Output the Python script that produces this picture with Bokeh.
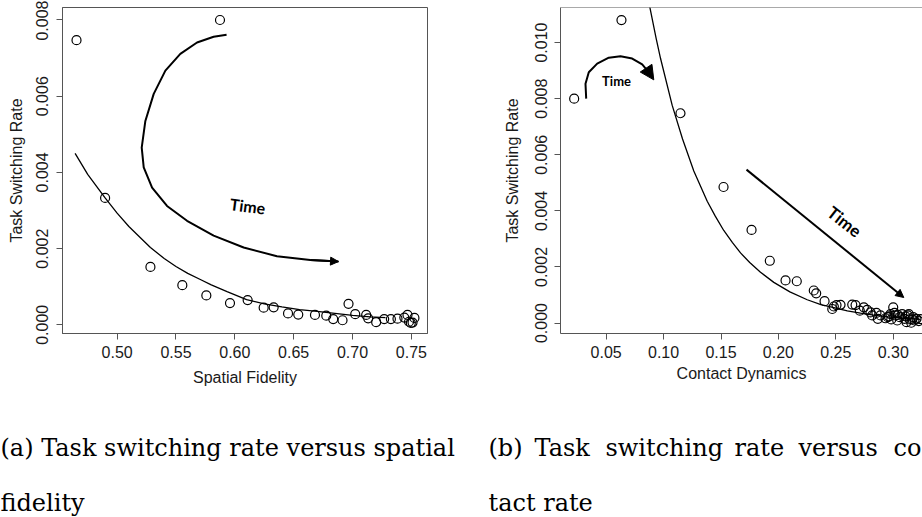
from bokeh.plotting import figure
from bokeh.models import Range1d, FixedTicker, NumeralTickFormatter, Label, Arrow, NormalHead, Span
from bokeh.layouts import row, column
from bokeh.embed import file_html
from bokeh.resources import INLINE

# ---------------- data: panel (a) ----------------
sf_x = [0.4655, 0.5874, 0.4898, 0.5283, 0.5554, 0.5758, 0.5959, 0.6109, 0.6245, 0.6330,
        0.6452, 0.6539, 0.6681, 0.6777, 0.6836, 0.6915, 0.6966, 0.7023, 0.7116, 0.7133,
        0.7201, 0.7269, 0.7326, 0.7382, 0.7440, 0.7467, 0.7480, 0.7495, 0.7510, 0.7526]
sf_y = [0.00747, 0.00800, 0.00333, 0.00152, 0.00104, 0.00077, 0.00057, 0.00065, 0.00045, 0.00046,
        0.00030, 0.00027, 0.00026, 0.00024, 0.00015, 0.00012, 0.00055, 0.00028, 0.00026, 0.00017,
        0.00007, 0.00015, 0.00015, 0.00016, 0.00019, 0.00026, 0.00008, 0.00005, 0.00006, 0.00018]
sf_fit_x = [0.4643, 0.475, 0.4898, 0.50, 0.51, 0.52, 0.5283, 0.54, 0.55, 0.56, 0.5707, 0.58,
            0.5934, 0.61, 0.625, 0.64, 0.655, 0.67, 0.685, 0.70, 0.715, 0.728]
sf_fit_y = [0.00450, 0.00395, 0.00333, 0.00293, 0.00258, 0.00228, 0.00203, 0.00174, 0.00153,
            0.00135, 0.00119, 0.00105, 0.00087, 0.00066, 0.00055, 0.00047, 0.00040, 0.00035,
            0.00030, 0.00025, 0.00021, 0.00019]
sf_arc_x = [0.5930, 0.5820, 0.5679, 0.5537, 0.5410, 0.5311, 0.5240, 0.5209, 0.5226, 0.5297,
            0.5424, 0.5594, 0.5820, 0.6075, 0.6358, 0.6641, 0.6881]
sf_arc_y = [0.00761, 0.00756, 0.00741, 0.00711, 0.00667, 0.00606, 0.00535, 0.00465, 0.00413,
            0.00360, 0.00312, 0.00273, 0.00234, 0.00203, 0.00180, 0.00170, 0.00166]
sf_xticks = [0.50, 0.55, 0.60, 0.65, 0.70, 0.75]
sf_yticks = [0.000, 0.002, 0.004, 0.006, 0.008]

# ---------------- data: panel (b) ----------------
cd_x = [0.0221, 0.0633, 0.1147, 0.1522, 0.1766, 0.1925, 0.2062, 0.2160, 0.2308, 0.2329,
        0.2402, 0.2469, 0.2483, 0.2506, 0.2541, 0.2643, 0.2672, 0.2709, 0.2744, 0.2773,
        0.2802, 0.2817, 0.2854, 0.2866, 0.2889, 0.2933, 0.2953, 0.2976, 0.3000, 0.2983,
        0.3020, 0.3035, 0.3057, 0.3078, 0.3098, 0.3116, 0.3127, 0.3144, 0.3157, 0.3174,
        0.3185, 0.3203, 0.3223, 0.3238, 0.2962, 0.3011, 0.3040, 0.3136, 0.3107, 0.3166]
cd_y = [0.00800, 0.01080, 0.00748, 0.00485, 0.00332, 0.00222, 0.00152, 0.00149, 0.00116, 0.00106,
        0.00078, 0.00050, 0.00059, 0.00064, 0.00065, 0.00066, 0.00064, 0.00044, 0.00056, 0.00047,
        0.00038, 0.00027, 0.00036, 0.00015, 0.00027, 0.00017, 0.00021, 0.00032, 0.00056, 0.00013,
        0.00027, 0.00009, 0.00021, 0.00032, 0.00015, 0.00003, 0.00027, 0.00013, 0.00001, 0.00021,
        0.00009, 0.00015, 0.00007, 0.00014, 0.00024, 0.00036, 0.00029, 0.00032, 0.00024, 0.00013]
cd_fit_x = [0.0860, 0.0880, 0.0935, 0.0973, 0.1075, 0.1165, 0.1263, 0.1380, 0.145, 0.1524, 0.160,
            0.167, 0.175, 0.1844, 0.196, 0.21, 0.2251, 0.237, 0.2483, 0.26, 0.2715, 0.283,
            0.2948, 0.31, 0.3237]
cd_fit_y = [0.01170, 0.01126, 0.01015, 0.00944, 0.00776, 0.00656, 0.00542, 0.00434, 0.00381,
            0.00330, 0.00287, 0.00250, 0.00216, 0.00181, 0.00145, 0.00111, 0.00083, 0.00066,
            0.00055, 0.00043, 0.00035, 0.00028, 0.00022, 0.00017, 0.00013]
cd_arc_x = [0.03258, 0.03197, 0.03484, 0.04216, 0.05226, 0.06246, 0.07265, 0.08136, 0.08711]
cd_arc_y = [0.00800, 0.00853, 0.00894, 0.00925, 0.00946, 0.00951, 0.00943, 0.00922, 0.00894]
cd_xticks = [0.05, 0.10, 0.15, 0.20, 0.25, 0.30]
cd_yticks = [0.000, 0.002, 0.004, 0.006, 0.008, 0.010]

# ---------------- captions ----------------
cap_a_line1 = "(a) Task switching rate versus spatial"
cap_a_line2 = "fidelity"
cap_b_words = ["(b)", "Task", "switching", "rate", "versus", "co"]
cap_b_line2 = "tact rate"

AXC = "#555555"
TXT = "#1a1a1a"
SANS = "Liberation Sans"


def style(p, xticks, yticks, xlabel, ylabel, tl_stand_x, lab_stand_x, tl_stand_y, lab_stand_y):
    p.xgrid.visible = False
    p.ygrid.visible = False
    p.background_fill_color = "white"
    p.border_fill_color = "white"
    for ax, ticks, fmt, lab, ts, ls in ((p.xaxis, xticks, "0.00", xlabel, tl_stand_x, lab_stand_x),
                                        (p.yaxis, yticks, "0.000", ylabel, tl_stand_y, lab_stand_y)):
        ax.ticker = FixedTicker(ticks=ticks)
        ax.formatter = NumeralTickFormatter(format=fmt)
        ax.minor_tick_line_color = None
        ax.major_tick_in = 0
        ax.major_tick_out = 6
        ax.major_tick_line_color = AXC
        ax.axis_line_color = AXC
        ax.major_label_text_font = SANS
        ax.major_label_text_font_size = "16px"
        ax.major_label_text_color = TXT
        ax.major_label_standoff = ts
        ax.axis_label = lab
        ax.axis_label_text_font = SANS
        ax.axis_label_text_font_size = "16px"
        ax.axis_label_text_font_style = "normal"
        ax.axis_label_text_color = TXT
        ax.axis_label_standoff = ls
    p.yaxis.major_label_orientation = "vertical"


# ---------------- panel (a) ----------------
p1 = figure(width=470, height=392, output_backend="svg", toolbar_location=None,
            x_range=Range1d(0.4536, 0.7637), y_range=Range1d(-0.000228, 0.008328),
            min_border_left=62, min_border_right=43, min_border_top=7, min_border_bottom=59)
style(p1, sf_xticks, sf_yticks, "Spatial Fidelity", "Task Switching Rate", 6, 8, 8, 9)
p1.outline_line_color = AXC
p1.outline_line_width = 1

p1.line(sf_fit_x, sf_fit_y, line_color="black", line_width=1.3)
p1.scatter(sf_x, sf_y, marker="circle", size=9, fill_color=None, line_color="black", line_width=1.2)
p1.line(sf_arc_x, sf_arc_y, line_color="black", line_width=2)
p1.add_layout(Arrow(end=NormalHead(size=8, fill_color="black", line_color="black"),
                    x_start=sf_arc_x[-2], y_start=sf_arc_y[-2], x_end=sf_arc_x[-1], y_end=sf_arc_y[-1],
                    line_color="black", line_width=2))
p1.add_layout(Label(x=0.6110, y=0.00312, text="Time", text_font="Lato", text_font_style="bold",
                    text_font_size="16px", text_align="center", text_baseline="middle", angle=-0.13,
                    text_color="black"))

# ---------------- panel (b) ----------------
p2 = figure(width=452, height=392, output_backend="svg", toolbar_location=None,
            x_range=Range1d(0.0102, 0.3255), y_range=Range1d(-0.000373, 0.01125),
            min_border_left=90, min_border_right=0, min_border_top=2, min_border_bottom=57)
style(p2, cd_xticks, cd_yticks, "Contact Dynamics", "Task Switching Rate", 6, 4, 7, 12)
p2.outline_line_color = None
p2.add_layout(Span(location=0.01125, dimension="width", line_color=AXC, line_width=1))

p2.line(cd_fit_x, cd_fit_y, line_color="black", line_width=1.3)
p2.scatter(cd_x, cd_y, marker="circle", size=9, fill_color=None, line_color="black", line_width=1.2)
p2.line(cd_arc_x, cd_arc_y, line_color="black", line_width=2)
p2.add_layout(Arrow(end=NormalHead(size=14, fill_color="black", line_color="black"),
                    x_start=cd_arc_x[-1], y_start=cd_arc_y[-1], x_end=0.09146, y_end=0.00867,
                    line_color="black", line_width=2))
p2.add_layout(Label(x=0.0590, y=0.00862, text="Time", text_font="Lato", text_font_style="bold",
                    text_font_size="13px", text_align="center", text_baseline="middle",
                    text_color="black"))
p2.add_layout(Arrow(end=NormalHead(size=8, fill_color="black", line_color="black"),
                    x_start=0.1722, y_start=0.00547, x_end=0.3092, y_end=0.00091,
                    line_color="black", line_width=2))
p2.add_layout(Label(x=0.2576, y=0.00362, text="Time", text_font="Lato", text_font_style="bold",
                    text_font_size="17px", text_align="center", text_baseline="middle", angle=-0.66,
                    text_color="black"))

# ---------------- caption strip ----------------
pc = figure(width=922, height=125, output_backend="svg", toolbar_location=None,
            x_range=Range1d(0, 922), y_range=Range1d(0, 125),
            x_axis_location=None, y_axis_location=None,
            min_border=0, min_border_left=0, min_border_right=0, min_border_top=0, min_border_bottom=0)
pc.xgrid.visible = False
pc.ygrid.visible = False
pc.outline_line_color = None
CAP = "DejaVu Serif"
CAPSZ = "24px"


def cap(x, y, t):
    pc.add_layout(Label(x=x, y=y, text=t, text_font=CAP, text_font_size=CAPSZ, text_color="black",
                        text_baseline="alphabetic", text_align="left"))


cap(0, 70, cap_a_line1)
cap(0, 15, cap_a_line2)
for wx, w in zip([488, 534, 605, 734, 798, 893], cap_b_words):
    cap(wx, 70, w)
cap(488, 15, cap_b_line2)

layout = column(row(p1, p2), pc)
open("out.html", "w").write(file_html(layout, INLINE))
